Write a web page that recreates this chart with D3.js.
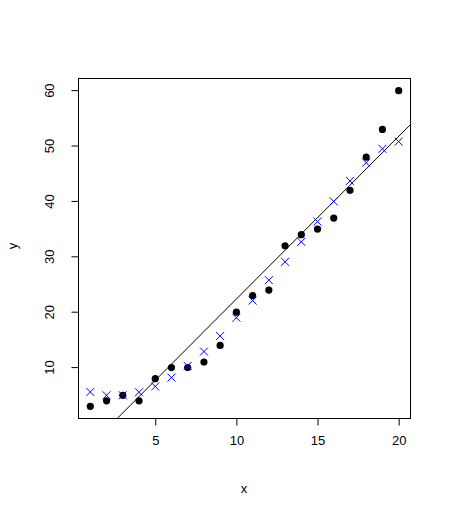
<!DOCTYPE html>
<html><head><meta charset="utf-8">
<script src="https://cdn.jsdelivr.net/npm/d3@7"></script>
<style>body{margin:0;background:#fff}svg{display:block}text{font-family:"Liberation Sans",Arial,sans-serif;}</style>
</head><body>
<script>
const xs = [1,2,3,4,5,6,7,8,9,10,11,12,13,14,15,16,17,18,19,20];
const yObserved = [3,4,5,4,8,10,10,11,14,20,23,24,32,34,35,37,42,48,53,60];
const yFitted = [5.6,5.0,5.0,5.55,6.6,8.2,10.3,12.9,15.7,19.0,22.1,25.8,29.1,32.7,36.35,40.0,43.7,47.0,49.5,50.8];
const lineCoef = [-6.98, 2.936]; // intercept, slope
const xTicks = [5,10,15,20];
const yTicks = [10,20,30,40,50,60];

const W = 452, H = 517;
const L = 78, R = 411, T = 78, B = 419;
const svg = d3.select("body").append("svg").attr("width", W).attr("height", H);

const x = d3.scaleLinear().domain([0.24, 20.76]).range([L, R]);
const y = d3.scaleLinear().domain([0.72, 62.28]).range([B, T]);

const g = svg.append("g");
// clip
svg.append("clipPath").attr("id","c").append("rect").attr("x",L).attr("y",T).attr("width",R-L).attr("height",B-T);

// regression line
const x0 = x.domain()[0], x1 = x.domain()[1];
g.append("line").attr("clip-path","url(#c)")
  .attr("x1", x(x0)).attr("y1", y(lineCoef[0]+lineCoef[1]*x0))
  .attr("x2", x(x1)).attr("y2", y(lineCoef[0]+lineCoef[1]*x1))
  .attr("stroke","#000").attr("stroke-width",1);

// dots
g.selectAll("circle").data(xs).join("circle")
  .attr("cx", (d)=>x(d)).attr("cy", (d,i)=>y(yObserved[i])).attr("r", 3.6).attr("fill","#000");

// crosses
const s = 4;
g.selectAll("path.cross").data(xs).join("path").attr("class","cross")
  .attr("d", (d,i)=>{const cx=x(d), cy=y(yFitted[i]); return `M${cx-s},${cy-s}L${cx+s},${cy+s}M${cx-s},${cy+s}L${cx+s},${cy-s}`;})
  .attr("stroke","#0000ff").attr("stroke-width",1).attr("fill","none");

// box
svg.append("rect").attr("x",L+0.5).attr("y",T+0.5).attr("width",R-L-1).attr("height",B-T-1)
  .attr("fill","none").attr("stroke","#000").attr("stroke-width",1);

// x axis
const xa = svg.append("g").attr("transform",`translate(0,${B-0.5})`)
  .call(d3.axisBottom(x).tickValues(xTicks).tickSize(7).tickPadding(10).tickFormat(d3.format("d")));
xa.select(".domain").remove();
xa.selectAll("text").attr("font-size",13).attr("fill","#000").style("font-family","Liberation Sans, Arial, sans-serif");
xa.selectAll("line").attr("stroke","#000");

// y axis
const ya = svg.append("g").attr("transform",`translate(${L+0.5},0)`)
  .call(d3.axisLeft(y).tickValues(yTicks).tickSize(7).tickFormat(d3.format("d")));
ya.select(".domain").remove();
ya.selectAll("line").attr("stroke","#000");
ya.selectAll("text").attr("font-size",13).attr("fill","#000").style("font-family","Liberation Sans, Arial, sans-serif")
  .attr("x",null).attr("dy",null).attr("text-anchor","middle")
  .attr("transform", d=>`translate(${50-L},${y(d)}) rotate(-90)`)
  .attr("y", 0).attr("dominant-baseline","middle");
ya.selectAll(".tick").attr("transform", d=>`translate(0,0)`);
ya.selectAll(".tick line").attr("y1", d=>y(d)).attr("y2", d=>y(d)).attr("x2",-7);

// axis titles
svg.append("text").attr("x", 244).attr("y", 493).attr("text-anchor","middle").attr("font-size",13).text("x");
svg.append("text").attr("transform","translate(17,246) rotate(-90)").attr("text-anchor","middle").attr("font-size",13).text("y");
</script>
</body></html>
